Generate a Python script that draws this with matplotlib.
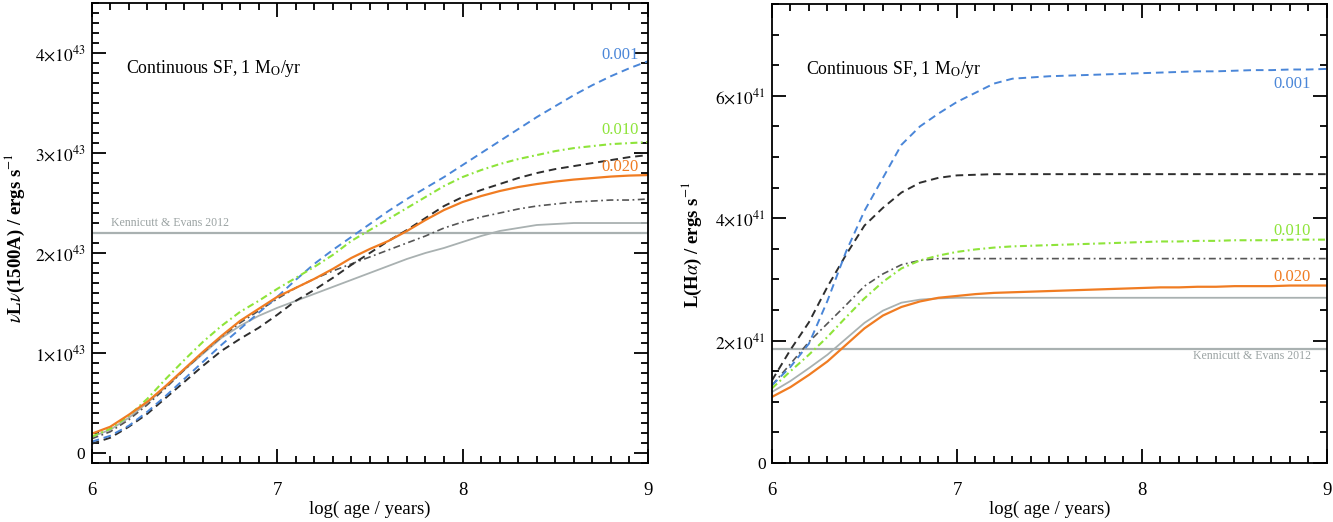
import numpy as np
import matplotlib
matplotlib.use("Agg")
import matplotlib.pyplot as plt
from matplotlib.ticker import FixedLocator, MultipleLocator, FuncFormatter

plt.rcParams['font.family'] = ['Liberation Serif', 'DejaVu Serif']
plt.rcParams['mathtext.fontset'] = 'stix'
plt.rcParams['lines.scale_dashes'] = False

# log(age / years), same grid for every model curve
log_age = np.linspace(6.0, 9.0, 31)

# ---- left panel: nu L_nu(1500A), units of 1e43 erg/s ----
uv_z001 = [0.11, 0.17, 0.27, 0.41, 0.57, 0.74, 0.91, 1.08, 1.24, 1.40, 1.56,
           1.73, 1.89, 2.03, 2.16, 2.29, 2.42, 2.54, 2.65, 2.76, 2.88,
           3.00, 3.12, 3.24, 3.36, 3.47, 3.58, 3.68, 3.77, 3.85, 3.92]
uv_z010 = [0.16, 0.24, 0.37, 0.54, 0.74, 0.93, 1.11, 1.27, 1.41, 1.52, 1.64,
           1.75, 1.86, 1.98, 2.12, 2.23, 2.34, 2.45, 2.56, 2.67, 2.76,
           2.83, 2.89, 2.94, 2.98, 3.02, 3.05, 3.07, 3.09, 3.10, 3.11]
uv_z020 = [0.19, 0.26, 0.38, 0.51, 0.67, 0.84, 1.01, 1.17, 1.32, 1.44, 1.56,
           1.65, 1.74, 1.84, 1.95, 2.04, 2.12, 2.22, 2.33, 2.43, 2.51,
           2.57, 2.62, 2.66, 2.69, 2.715, 2.735, 2.75, 2.765, 2.775, 2.78]
uv_dash = [0.09, 0.15, 0.26, 0.39, 0.55, 0.71, 0.87, 1.02, 1.14, 1.25, 1.38,
           1.52, 1.63, 1.75, 1.88, 2.00, 2.12, 2.23, 2.35, 2.47, 2.56,
           2.63, 2.69, 2.75, 2.80, 2.84, 2.87, 2.90, 2.93, 2.96, 2.98]
uv_dashdot = [0.14, 0.21, 0.33, 0.48, 0.65, 0.83, 1.00, 1.16, 1.30, 1.42, 1.54,
              1.65, 1.74, 1.82, 1.89, 1.96, 2.03, 2.10, 2.17, 2.25, 2.31,
              2.36, 2.40, 2.44, 2.47, 2.49, 2.51, 2.52, 2.53, 2.53, 2.54]
uv_grey = [0.16, 0.23, 0.35, 0.50, 0.66, 0.83, 0.99, 1.15, 1.27, 1.37, 1.45,
           1.52, 1.59, 1.66, 1.73, 1.80, 1.87, 1.94, 2.00, 2.05, 2.11,
           2.17, 2.22, 2.25, 2.28, 2.29, 2.30, 2.30, 2.30, 2.30, 2.30]
uv_ke12 = 2.20

# ---- right panel: L(Halpha), units of 1e41 erg/s ----
ha_z001 = [1.27, 1.57, 1.95, 2.65, 3.45, 4.12, 4.66, 5.20, 5.50, 5.71, 5.90,
           6.05, 6.20, 6.28, 6.30, 6.32, 6.33, 6.34, 6.35, 6.36, 6.37,
           6.38, 6.39, 6.40, 6.40, 6.41, 6.42, 6.42, 6.43, 6.43, 6.44]
ha_z010 = [1.22, 1.50, 1.77, 2.06, 2.38, 2.69, 2.96, 3.18, 3.31, 3.39, 3.45,
           3.49, 3.52, 3.54, 3.55, 3.56, 3.57, 3.58, 3.59, 3.60, 3.61,
           3.62, 3.62, 3.63, 3.63, 3.64, 3.64, 3.64, 3.65, 3.65, 3.65]
ha_z020 = [1.08, 1.24, 1.44, 1.66, 1.93, 2.20, 2.41, 2.55, 2.64, 2.70, 2.73,
           2.76, 2.78, 2.79, 2.80, 2.81, 2.82, 2.83, 2.84, 2.85, 2.86,
           2.87, 2.87, 2.88, 2.88, 2.89, 2.89, 2.89, 2.90, 2.90, 2.90]
ha_dash = [1.35, 1.85, 2.30, 2.88, 3.40, 3.88, 4.17, 4.42, 4.58, 4.66, 4.70,
           4.71, 4.72, 4.72, 4.72, 4.72, 4.72, 4.72, 4.72, 4.72, 4.72,
           4.72, 4.72, 4.72, 4.72, 4.72, 4.72, 4.72, 4.72, 4.72, 4.72]
ha_dashdot = [1.27, 1.62, 1.98, 2.28, 2.58, 2.89, 3.09, 3.24, 3.31, 3.34, 3.34,
              3.34, 3.34, 3.34, 3.34, 3.34, 3.34, 3.34, 3.34, 3.34, 3.34,
              3.34, 3.34, 3.34, 3.34, 3.34, 3.34, 3.34, 3.34, 3.34, 3.34]
ha_grey = [1.16, 1.34, 1.55, 1.77, 2.03, 2.29, 2.49, 2.62, 2.67, 2.69, 2.70,
           2.70, 2.70, 2.70, 2.70, 2.70, 2.70, 2.70, 2.70, 2.70, 2.70,
           2.70, 2.70, 2.70, 2.70, 2.70, 2.70, 2.70, 2.70, 2.70, 2.70]
ha_ke12 = 1.86

c_blue = '#4a86d8'
c_green = '#8ee43a'
c_orange = '#f07c22'
c_dark = '#2e2e2e'
c_dd = '#555555'
c_grey = '#a9b1b1'

DASH = (0, (5.5, 3.5))
DASHDOT = (0, (5.0, 2.5, 1.3, 2.5))


def style_axis(ax, ymax, ymin, ymajor, yminor, exp):
    ax.set_xlim(6, 9)
    ax.set_ylim(ymin, ymax)
    ax.xaxis.set_major_locator(FixedLocator([6, 7, 8, 9]))
    ax.xaxis.set_minor_locator(MultipleLocator(0.1))
    ax.yaxis.set_major_locator(MultipleLocator(ymajor))
    ax.yaxis.set_minor_locator(MultipleLocator(yminor))

    def fmt(v, pos):
        v = int(round(v))
        if v == 0:
            return '0'
        return r'$%d{\times}10^{%d}$' % (v, exp)
    ax.yaxis.set_major_formatter(FuncFormatter(fmt))
    ax.tick_params(which='both', direction='in', top=True, right=True,
                   width=1.3)
    ax.tick_params(which='major', length=10)
    ax.tick_params(which='minor', length=5)
    ax.tick_params(axis='x', which='major', pad=14, labelsize=13.5)
    ax.tick_params(axis='y', which='major', pad=4.5, labelsize=12.5)
    for s in ax.spines.values():
        s.set_linewidth(1.3)
    ax.set_xlabel('log( age / years)', fontsize=13.5, labelpad=1)


fig = plt.figure(figsize=(13.33, 5.22), dpi=100)

# left panel
ax1 = fig.add_axes([0.0688, 0.1136, 0.4173, 0.8801])
ax1.axhline(uv_ke12, color=c_grey, lw=1.6)
ax1.plot(log_age, uv_grey, color=c_grey, lw=1.3)
ax1.plot(log_age, uv_dashdot, color=c_dd, lw=1.2, linestyle=DASHDOT)
ax1.plot(log_age, uv_dash, color=c_dark, lw=1.4, linestyle=DASH)
ax1.plot(log_age, uv_z001, color=c_blue, lw=1.4, linestyle=DASH)
ax1.plot(log_age, uv_z010, color=c_green, lw=1.5, linestyle=DASHDOT)
ax1.plot(log_age, uv_z020, color=c_orange, lw=1.6)
style_axis(ax1, 4.5, -0.1, 1, 0.1, 43)
ax1.set_ylabel(r'$\nu$L$\nu$(1500A) / ergs s$^{-1}$', fontsize=13.5,
               fontweight='bold')
ax1.yaxis.set_label_coords(-0.117, 0.49)
ax1.text(0.0617, 0.857, r'Continuous SF, 1 M$_{\rm O}$/yr', transform=ax1.transAxes,
         fontsize=12.8, va='center', ha='left')
ax1.text(0.983, 0.8875, '0.001', color=c_blue, transform=ax1.transAxes,
         fontsize=12, ha='right', va='center')
ax1.text(0.983, 0.724, '0.010', color=c_green, transform=ax1.transAxes,
         fontsize=12, ha='right', va='center')
ax1.text(0.983, 0.643, '0.020', color=c_orange, transform=ax1.transAxes,
         fontsize=12, ha='right', va='center')
ax1.text(0.035, 0.522, 'Kennicutt & Evans 2012', color='#9ba3a3',
         transform=ax1.transAxes, fontsize=8.6, ha='left', va='center')

# right panel
ax2 = fig.add_axes([0.5791, 0.1130, 0.4164, 0.8793])
ax2.axhline(ha_ke12, color=c_grey, lw=1.6)
ax2.plot(log_age, ha_grey, color=c_grey, lw=1.3)
ax2.plot(log_age, ha_dashdot, color=c_dd, lw=1.2, linestyle=DASHDOT)
ax2.plot(log_age, ha_dash, color=c_dark, lw=1.4, linestyle=DASH)
ax2.plot(log_age, ha_z001, color=c_blue, lw=1.4, linestyle=DASH)
ax2.plot(log_age, ha_z010, color=c_green, lw=1.5, linestyle=DASHDOT)
ax2.plot(log_age, ha_z020, color=c_orange, lw=1.6)
style_axis(ax2, 7.5, 0, 2, 0.5, 41)
ax2.set_ylabel(r'L(H$\alpha$) / ergs s$^{-1}$', fontsize=13.5, fontweight='bold')
ax2.yaxis.set_label_coords(-0.122, 0.475)
ax2.text(0.061, 0.858, r'Continuous SF, 1 M$_{\rm O}$/yr', transform=ax2.transAxes,
         fontsize=12.8, va='center', ha='left')
ax2.text(0.971, 0.826, '0.001', color=c_blue, transform=ax2.transAxes,
         fontsize=12, ha='right', va='center')
ax2.text(0.971, 0.505, '0.010', color=c_green, transform=ax2.transAxes,
         fontsize=12, ha='right', va='center')
ax2.text(0.971, 0.405, '0.020', color=c_orange, transform=ax2.transAxes,
         fontsize=12, ha='right', va='center')
ax2.text(0.971, 0.233, 'Kennicutt & Evans 2012', color='#9ba3a3',
         transform=ax2.transAxes, fontsize=8.6, ha='right', va='center')

fig.savefig('out.png', dpi=100)
